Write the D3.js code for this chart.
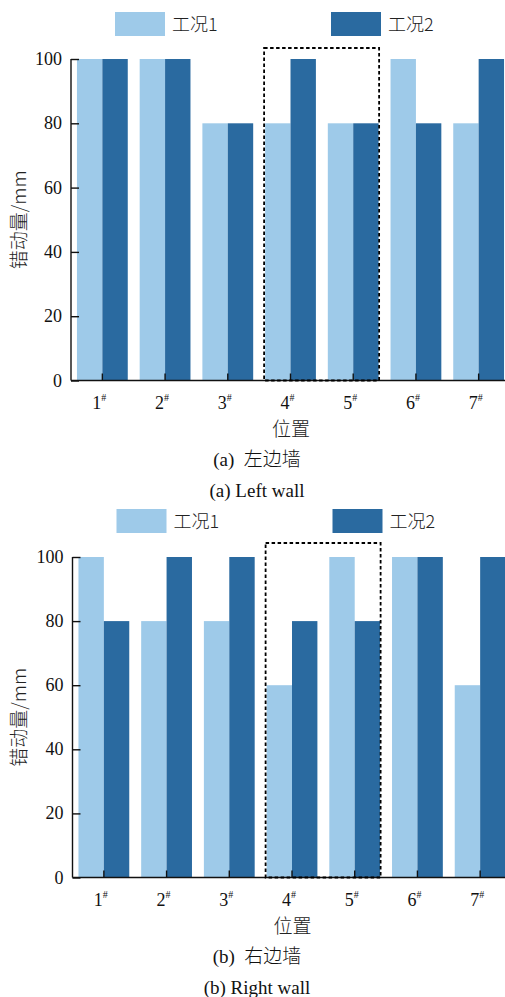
<!DOCTYPE html>
<html>
<head>
<meta charset="utf-8">
<script src="https://cdn.jsdelivr.net/npm/d3@7"></script>
<style>
  html, body { margin: 0; padding: 0; background: #fff; }
  svg { display: block; }
</style>
</head>
<body>
<svg id="chart" width="505" height="997"></svg>
<script>
// Positions along each wall
const positions = ["1", "2", "3", "4", "5", "6", "7"];
const seriesNames = ["工况1", "工况2"];
const yTicks = [0, 20, 40, 60, 80, 100];

// Displacement (mm), left wall
const leftCase1 = [100, 100, 80, 80, 80, 100, 80];
const leftCase2 = [100, 100, 80, 100, 80, 80, 100];
// Displacement (mm), right wall
const rightCase1 = [100, 80, 80, 60, 100, 100, 60];
const rightCase2 = [80, 100, 100, 80, 80, 100, 100];

// Positions enclosed by the dashed highlight box
const highlighted = ["4", "5"];

const colors = ["#9ecae9", "#2a6aa0"];
const SERIF = "'Liberation Serif', 'DejaVu Serif', serif";
const CJK = "'Noto Sans CJK SC', sans-serif";

const svg = d3.select("#chart");

function drawPanel(cfg) {
  const g = svg.append("g");
  const x = d3.scaleBand().domain(positions)
    .range([cfg.x0, cfg.x0 + 439]).paddingInner(0.19).paddingOuter(0.095);
  const xs = d3.scaleBand().domain([0, 1]).range([0, x.bandwidth()]);
  const y = d3.scaleLinear().domain([0, 100]).range([cfg.yBottom, cfg.yTop]);

  // legend
  const legX = [cfg.x0 + 44, cfg.x0 + 260];
  seriesNames.forEach((name, i) => {
    g.append("rect").attr("x", legX[i]).attr("y", cfg.legY)
      .attr("width", 50).attr("height", 24).attr("fill", colors[i]);
    g.append("text").attr("font-family", CJK).attr("font-weight", 300)
      .attr("x", legX[i] + 57).attr("y", cfg.legY + 19)
      .attr("font-size", 18).attr("fill", "#222").text(name);
  });

  // bars
  [cfg.s1, cfg.s2].forEach((vals, si) => {
    g.append("g").selectAll("rect").data(vals).join("rect")
      .attr("x", (d, i) => x(positions[i]) + xs(si))
      .attr("y", d => y(d))
      .attr("width", xs.bandwidth())
      .attr("height", d => y(0) - y(d))
      .attr("fill", colors[si]);
  });

  // y axis with inward ticks
  const yAxis = d3.axisRight(y).tickValues(yTicks).tickSize(8).tickFormat("");
  const ya = g.append("g").attr("transform", `translate(${cfg.x0},0)`).call(yAxis);
  ya.select(".domain").attr("d", `M0,${y(0)}V${y(100)}`).attr("stroke", "#111").attr("stroke-width", 1.4);
  ya.selectAll(".tick line").attr("stroke", "#111").attr("stroke-width", 1.4);
  g.append("g").selectAll("text").data(yTicks).join("text")
    .attr("font-family", SERIF).attr("x", cfg.x0 - 9).attr("y", d => y(d) + 6)
    .attr("text-anchor", "end").attr("font-size", 18).attr("fill", "#111").text(d => d);

  // x axis with inward ticks
  const xAxis = d3.axisTop(x).tickSize(7).tickFormat("");
  const xa = g.append("g").attr("transform", `translate(0,${y(0)})`).call(xAxis);
  xa.select(".domain").attr("d", `M${cfg.x0},0H505`).attr("stroke", "#111").attr("stroke-width", 1.6);
  xa.selectAll(".tick line").attr("stroke", "#111").attr("stroke-width", 1.4);
  const lab = g.append("g").selectAll("text").data(positions).join("text")
    .attr("font-family", SERIF).attr("x", d => x(d) + x.bandwidth() / 2 - 3)
    .attr("y", y(0) + cfg.tickLabDy).attr("text-anchor", "middle")
    .attr("font-size", 18).attr("fill", "#111");
  lab.append("tspan").text(d => d);
  lab.append("tspan").attr("font-size", 10).attr("dy", -8).text("#");

  // dashed highlight box
  const bx0 = x(highlighted[0]) - 1, bx1 = x(highlighted[highlighted.length - 1]) + x.bandwidth() + 0.5;
  g.append("rect").attr("x", bx0).attr("y", cfg.boxTop)
    .attr("width", bx1 - bx0).attr("height", y(0) - cfg.boxTop)
    .attr("fill", "none").attr("stroke", "#000").attr("stroke-width", 1.8)
    .attr("stroke-dasharray", "3.5,2.5");

  // axis titles
  g.append("text").attr("font-family", CJK).attr("font-weight", 300)
    .attr("transform", `translate(${cfg.yLabX},${(y(0) + y(100)) / 2}) rotate(-90)`)
    .attr("text-anchor", "middle").attr("font-size", 19).attr("fill", "#222")
    .text("错动量/mm");
  g.append("text").attr("font-family", CJK).attr("font-weight", 300)
    .attr("x", cfg.x0 + 220).attr("y", y(0) + cfg.xTitleDy)
    .attr("text-anchor", "middle").attr("font-size", 19).attr("fill", "#222").text("位置");

  // captions
  const cap = g.append("text").attr("x", 257).attr("y", y(0) + cfg.cap1Dy)
    .attr("text-anchor", "middle").attr("font-size", 19).attr("fill", "#111");
  cap.append("tspan").attr("font-family", SERIF).text(cfg.tag + "\u00a0\u00a0");
  cap.append("tspan").attr("font-family", CJK).attr("font-weight", 300).text(cfg.capCn);
  g.append("text").attr("font-family", SERIF).attr("x", 257).attr("y", y(0) + cfg.cap2Dy)
    .attr("text-anchor", "middle").attr("font-size", 19).attr("fill", "#111").text(cfg.capEn);
}

drawPanel({
  x0: 71, yTop: 59, yBottom: 380.5, legY: 12, boxTop: 48, yLabX: 26,
  s1: leftCase1, s2: leftCase2,
  tickLabDy: 28, xTitleDy: 55, cap1Dy: 85, cap2Dy: 116,
  tag: "(a)", capCn: "左边墙", capEn: "(a) Left wall"
});
drawPanel({
  x0: 72.5, yTop: 557, yBottom: 877.5, legY: 509, boxTop: 543, yLabX: 26,
  s1: rightCase1, s2: rightCase2,
  tickLabDy: 28, xTitleDy: 55, cap1Dy: 85, cap2Dy: 116,
  tag: "(b)", capCn: "右边墙", capEn: "(b) Right wall"
});
</script>
</body>
</html>
